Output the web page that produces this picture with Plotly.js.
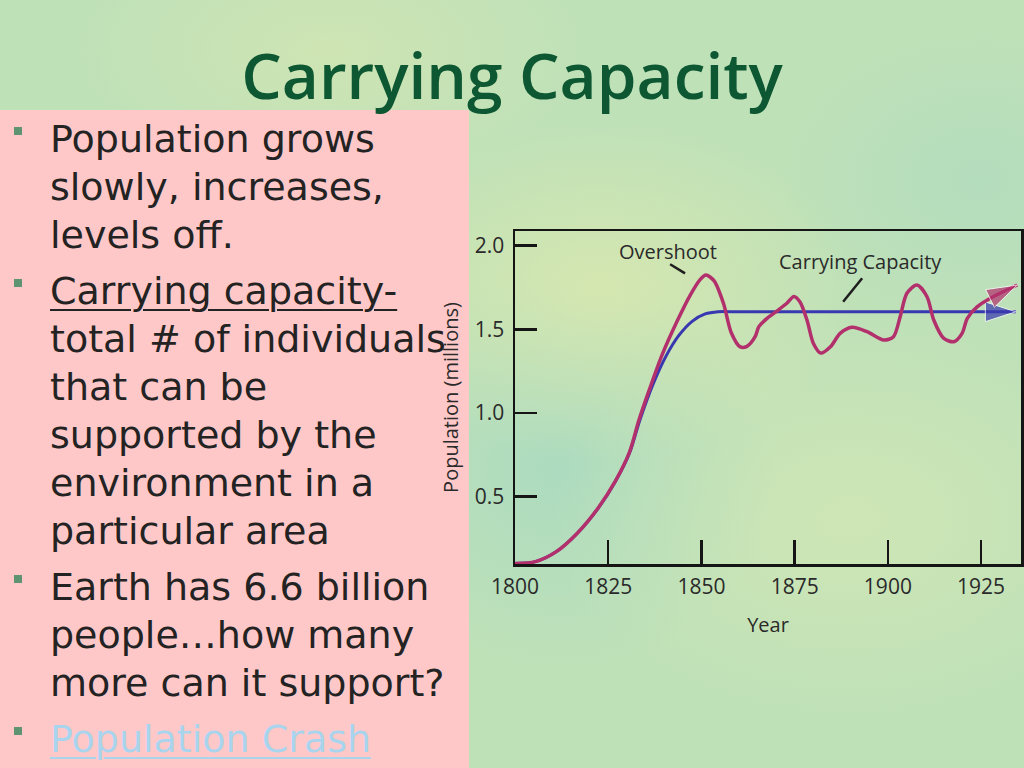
<!DOCTYPE html>
<html>
<head>
<meta charset="utf-8">
<script src="https://cdn.plot.ly/plotly-3.0.1.min.js"></script>
<style>
  html, body { margin:0; padding:0; }
  body {
    width:1024px; height:768px; overflow:hidden; position:relative;
    background:
      radial-gradient(ellipse 260px 170px at 600px 290px, rgba(232,236,170,0.55), rgba(232,236,170,0) 100%),
      radial-gradient(ellipse 260px 140px at 330px 50px, rgba(222,232,175,0.5), rgba(222,232,175,0) 100%),
      radial-gradient(ellipse 300px 200px at 850px 520px, rgba(226,236,178,0.45), rgba(226,236,178,0) 100%),
      radial-gradient(ellipse 220px 200px at 560px 470px, rgba(150,212,200,0.45), rgba(150,212,200,0) 100%),
      radial-gradient(ellipse 200px 150px at 980px 180px, rgba(165,215,195,0.45), rgba(165,215,195,0) 100%),
      #bfe1b8;
    font-family: "Open Sans", sans-serif;
  }
  #title {
    position:absolute; left:0; top:46px; width:1024px; text-align:center;
    font-family:"Open Sans", sans-serif; font-weight:600; font-size:64px; line-height:58px;
    color:#0d5833; white-space:nowrap; z-index:3;
  }
  #panel {
    position:absolute; left:0; top:110px; width:469px; height:658px;
    background:#ffc8c8; z-index:1;
  }
  #bullets {
    position:absolute; left:0; top:115px; width:520px; z-index:2;
    font-family:"DejaVu Sans", sans-serif; font-size:38px; line-height:48px; color:#232323;
  }
  .b { position:relative; padding-left:50px; margin-bottom:8px; white-space:nowrap; }
  .b::before {
    content:""; position:absolute; left:14px; top:12px; width:8px; height:8px; background:#5f9472;
  }
  .u { text-decoration:underline; text-decoration-thickness:2px; text-underline-offset:5px; }
  .link { color:#a9d4ee; text-decoration:underline; text-decoration-thickness:2px; text-underline-offset:5px; }
  #chart { position:absolute; left:0; top:0; width:1024px; height:768px; z-index:4; }
</style>
</head>
<body>
<div id="title">Carrying Capacity</div>
<div id="panel"></div>
<div id="bullets">
  <div class="b">Population grows<br>slowly, increases,<br>levels off.</div>
  <div class="b"><span class="u">Carrying capacity-</span><br>total # of individuals<br>that can be<br>supported by the<br>environment in a<br>particular area</div>
  <div class="b">Earth has 6.6 billion<br>people…how many<br>more can it support?</div>
  <div class="b"><span class="link">Population Crash</span></div>
</div>
<div id="chart"></div>
<script>
// ---- data ----
const capacityYears = [1800, 1805.5, 1811.1, 1816.7, 1822.3, 1826.9, 1830.7, 1833.5, 1837.0, 1840.5, 1844.0, 1847.5, 1851.0, 1854.5, 1860, 1934.3];
const capacityPop   = [0.10, 0.111, 0.171, 0.281, 0.430, 0.589, 0.759, 0.958, 1.170, 1.340, 1.465, 1.548, 1.592, 1.605, 1.605, 1.605];

const overshootYears = [1800, 1805.5, 1811.1, 1816.7, 1822.3, 1826.9, 1830.7, 1833.3, 1836.2, 1839.5, 1843.4, 1847.0, 1849.7, 1851.2, 1853.4, 1855.9, 1858.0, 1860.4, 1862.2, 1864.4, 1865.4, 1867.6, 1870.3, 1872.9, 1874.8, 1876.4, 1878.3, 1880.0, 1882.0, 1884.6, 1887.2, 1890.4, 1894.4, 1898.9, 1901.5, 1903.3, 1905.1, 1907.8, 1910.5, 1912.3, 1915.0, 1917.7, 1919.9, 1921.3, 1924.0, 1927.5, 1934.7];
const overshootPop   = [0.10, 0.111, 0.171, 0.281, 0.432, 0.592, 0.766, 0.962, 1.15, 1.35, 1.545, 1.705, 1.799, 1.825, 1.79, 1.656, 1.48, 1.395, 1.398, 1.456, 1.516, 1.566, 1.611, 1.656, 1.697, 1.665, 1.556, 1.417, 1.358, 1.396, 1.476, 1.512, 1.486, 1.436, 1.456, 1.576, 1.716, 1.765, 1.695, 1.556, 1.446, 1.426, 1.476, 1.566, 1.636, 1.686, 1.765];

const xTickVals = [1800, 1825, 1850, 1875, 1900, 1925];
const xTickText = ['1800', '1825', '1850', '1875', '1900', '1925'];
const yTickVals = [0.5, 1.0, 1.5, 2.0];
const yTickText = ['0.5', '1.0', '1.5', '2.0'];

const noteText = ['Overshoot', 'Carrying Capacity'];
const noteX = [1841.1, 1892.6];
const noteY = [1.968, 1.903];
const leaderX0 = [1841.6, 1893.1];
const leaderY0 = [1.889, 1.805];
const leaderX1 = [1845.6, 1888.0];
const leaderY1 = [1.835, 1.665];

// ---- build ----
function endArrowSizes(n, s) { return Array.from({length:n}, (_, i) => i === n - 1 ? s : 0); }

const traces = [
  {
    x: capacityYears, y: capacityPop, type: 'scatter', mode: 'lines+markers',
    line: {color: '#3838b0', width: 3, shape: 'spline', smoothing: 0.8},
    marker: {symbol: 'arrow', angleref: 'previous', size: endArrowSizes(capacityYears.length, 32), color: '#3838b0'},
    hoverinfo: 'skip', showlegend: false
  },
  {
    x: overshootYears, y: overshootPop, type: 'scatter', mode: 'lines+markers',
    line: {color: '#b2306c', width: 3.5, shape: 'spline', smoothing: 0.8},
    marker: {symbol: 'arrow', angleref: 'previous', size: endArrowSizes(overshootYears.length, 32), color: '#b2306c'},
    hoverinfo: 'skip', showlegend: false
  }
];

const annotations = noteText.map((t, i) => ({
  x: noteX[i], y: noteY[i], xref: 'x', yref: 'y', text: t, showarrow: false,
  font: {family: 'Open Sans', size: 20, color: '#2a2a2a'}
}));
const shapes = noteText.map((t, i) => ({
  type: 'line', xref: 'x', yref: 'y',
  x0: leaderX0[i], y0: leaderY0[i], x1: leaderX1[i], y1: leaderY1[i],
  line: {color: '#1e1e1e', width: 2.5}
}));

const axisCommon = {
  showline: true, linecolor: '#151515', linewidth: 2.5, mirror: true,
  ticks: 'inside', tickcolor: '#151515', tickwidth: 2.5,
  showgrid: false, zeroline: false,
  tickfont: {family: 'Open Sans', size: 21, color: '#2a2a2a'}
};

const layout = {
  width: 1024, height: 768,
  margin: {l: 515, r: 3, t: 231, b: 204, pad: 0},
  paper_bgcolor: 'rgba(0,0,0,0)', plot_bgcolor: 'rgba(0,0,0,0)',
  font: {family: 'Open Sans', color: '#2a2a2a'},
  xaxis: Object.assign({}, axisCommon, {
    range: [1800, 1935.7], tickvals: xTickVals, ticktext: xTickText, ticklen: 24,
    ticklabelstandoff: 2,
    title: {text: 'Year', font: {family: 'Open Sans', size: 20, color: '#2a2a2a'}, standoff: 20}
  }),
  yaxis: Object.assign({}, axisCommon, {
    range: [0.097, 2.088], tickvals: yTickVals, ticktext: yTickText, ticklen: 22,
    ticklabelstandoff: 4,
    title: {text: 'Population (millions)', font: {family: 'Open Sans', size: 20, color: '#2a2a2a'}, standoff: 11}
  }),
  annotations: annotations,
  shapes: shapes
};

Plotly.newPlot('chart', traces, layout, {staticPlot: true, displayModeBar: false});
</script>
</body>
</html>
